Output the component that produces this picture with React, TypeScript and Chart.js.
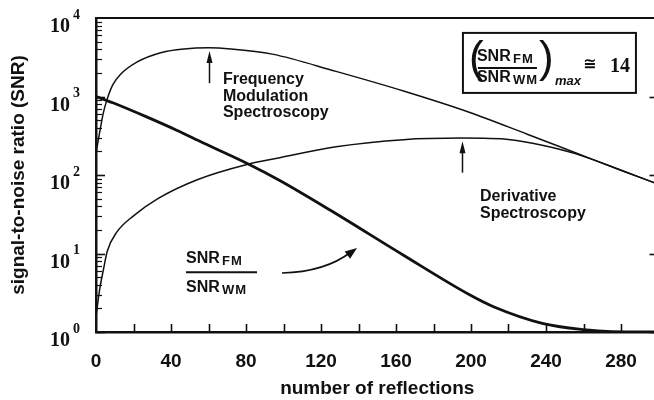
import React, { useEffect, useRef } from 'react';
import { Chart, registerables } from 'chart.js';

Chart.register(...registerables);

// ---------------- data ----------------
const fmReflections = [0, 2, 4, 6, 9, 13, 22, 35, 47, 60, 72, 94, 128, 164, 199, 230, 256, 280, 300];
const fmSNR = [191, 355, 631, 933, 1413, 1905, 2754, 3631, 4030, 4169, 4030, 3467, 2089, 1175, 631, 331, 191, 115, 76];

const wmReflections = [0, 2, 4, 6, 11, 20, 33, 54, 80, 98, 128, 164, 195, 221, 238, 256, 280, 300];
const wmSNR = [1.58, 3.55, 6.3, 10.7, 18.6, 30.2, 50, 87, 135, 166, 229, 282, 295, 282, 240, 186, 115, 76];

const ratioReflections = [0, 9, 27, 43, 57, 82, 98, 125, 164, 199, 212, 238, 260, 275, 300];
const ratioValues = [1000, 832, 550, 372, 257, 135, 85, 35.5, 9.5, 3.0, 2.1, 1.29, 1.07, 1.01, 1.0];

const xTickLabels = [0, 40, 80, 120, 160, 200, 240, 280];
const xTickMarks = [20, 40, 60, 80, 100, 120, 140, 160, 180, 200, 220, 240, 260, 280];
const yTickExponents = [0, 1, 2, 3, 4];

// ---------------- styling ----------------
const INK = '#111111';
const SANS = '"Liberation Sans", Arial, Helvetica, sans-serif';
const SERIF = '"Liberation Serif", "Times New Roman", serif';

// annotation anchors in data coordinates
const fmTextAnchor = { x: 67.7, y: Math.pow(10, 3.21) };
const wmTextAnchor = { x: 204.8, y: Math.pow(10, 1.72) };
const fmArrow = { x: 60, tail: Math.pow(10, 3.17), tip: Math.pow(10, 3.58) };
const wmArrow = { x: 195, tail: Math.pow(10, 2.03), tip: Math.pow(10, 2.43) };
const fractionAnchor = { x: 48, y: Math.pow(10, 0.76) };
const curvedArrow = {
  start: { x: 99.2, y: Math.pow(10, 0.752) },
  ctrl: { x: 122.1, y: Math.pow(10, 0.764) },
  end: { x: 139.2, y: Math.pow(10, 1.07) },
};
const boxAnchor = { x: 195.7, y: Math.pow(10, 3.81) };

function arrowHead(ctx: CanvasRenderingContext2D, tx: number, ty: number, dx: number, dy: number, len: number, half: number) {
  const n = Math.hypot(dx, dy);
  const ux = dx / n, uy = dy / n;
  const bx = tx - ux * len, by = ty - uy * len;
  ctx.beginPath();
  ctx.moveTo(tx, ty);
  ctx.lineTo(bx - uy * half, by + ux * half);
  ctx.lineTo(bx + uy * half, by - ux * half);
  ctx.closePath();
  ctx.fill();
}

const figurePlugin = {
  id: 'figureDecor',
  afterDatasetsDraw(chart: any) {
    const { ctx, chartArea, scales } = chart;
    const xs = scales.x, ys = scales.y;
    const px = (v: number) => xs.getPixelForValue(v);
    const py = (v: number) => ys.getPixelForValue(v);
    const { left, right, bottom } = chartArea;
    ctx.save();
    ctx.strokeStyle = INK;
    ctx.fillStyle = INK;
    ctx.lineCap = 'butt';

    // x ticks (inward)
    ctx.lineWidth = 1.6;
    for (const v of xTickMarks) {
      const x = Math.round(px(v)) + 0.5;
      ctx.beginPath();
      ctx.moveTo(x, bottom);
      ctx.lineTo(x, bottom - 8);
      ctx.stroke();
    }
    // y ticks (inward), minor + major
    for (let e = 0; e < 4; e++) {
      for (let m = 1; m < 10; m++) {
        const v = m * Math.pow(10, e);
        const y = Math.round(py(v)) + 0.5;
        const len = m === 1 ? 9 : 6;
        ctx.lineWidth = m === 1 ? 1.6 : 1.2;
        ctx.beginPath();
        ctx.moveTo(left, y);
        ctx.lineTo(left + len, y);
        ctx.stroke();
        if (m === 1) {
          ctx.beginPath();
          ctx.moveTo(right, y);
          ctx.lineTo(right - 9, y);
          ctx.stroke();
        }
      }
    }

    // y tick labels 10^n
    ctx.textBaseline = 'middle';
    for (const e of yTickExponents) {
      const y = py(Math.pow(10, e));
      ctx.font = `bold 20px ${SERIF}`;
      ctx.textAlign = 'right';
      ctx.fillText('10', left - 26, y + 9);
      ctx.font = `bold 14px ${SERIF}`;
      ctx.textAlign = 'left';
      ctx.fillText(String(e), left - 23, y - 3);
    }

    // text labels
    ctx.textAlign = 'left';
    ctx.font = `bold 16px ${SANS}`;
    const fx = px(fmTextAnchor.x), fy = py(fmTextAnchor.y);
    ['Frequency', 'Modulation', 'Spectroscopy'].forEach((t, i) => ctx.fillText(t, fx, fy + i * 16.5));
    const dx = px(wmTextAnchor.x), dy = py(wmTextAnchor.y);
    ['Derivative', 'Spectroscopy'].forEach((t, i) => ctx.fillText(t, dx, dy + i * 17));

    // vertical arrows
    ctx.lineWidth = 1.5;
    for (const a of [fmArrow, wmArrow]) {
      const x = Math.round(px(a.x)) + 0.5;
      const yT = py(a.tail), yP = py(a.tip);
      ctx.beginPath();
      ctx.moveTo(x, yT);
      ctx.lineTo(x, yP + 6);
      ctx.stroke();
      arrowHead(ctx, x, yP, 0, -1, 12, 3);
    }

    // fraction label SNR_FM / SNR_WM
    const qx = px(fractionAnchor.x), qy = py(fractionAnchor.y);
    ctx.font = `bold 16px ${SANS}`;
    ctx.fillText('SNR', qx, qy - 14);
    ctx.fillText('SNR', qx, qy + 15);
    (ctx as any).letterSpacing = '1px';
    ctx.font = `bold 13px ${SANS}`;
    ctx.fillText('FM', qx + 36, qy - 11);
    ctx.fillText('WM', qx + 36, qy + 18);
    (ctx as any).letterSpacing = '0px';
    ctx.lineWidth = 2;
    ctx.beginPath();
    ctx.moveTo(qx, qy);
    ctx.lineTo(qx + 71, qy);
    ctx.stroke();

    // curved arrow
    const s = { x: px(curvedArrow.start.x), y: py(curvedArrow.start.y) };
    const c = { x: px(curvedArrow.ctrl.x), y: py(curvedArrow.ctrl.y) };
    const en = { x: px(curvedArrow.end.x), y: py(curvedArrow.end.y) };
    ctx.lineWidth = 1.6;
    ctx.beginPath();
    ctx.moveTo(s.x, s.y);
    ctx.quadraticCurveTo(c.x, c.y, en.x - 6, en.y + 4);
    ctx.stroke();
    arrowHead(ctx, en.x, en.y, en.x - c.x, en.y - c.y, 12, 4.5);

    // boxed formula
    const L = px(boxAnchor.x), T = py(boxAnchor.y);
    ctx.lineWidth = 2;
    ctx.strokeRect(L, T, 173, 60);
    ctx.font = `44px ${SANS}`;
    ctx.fillText('(', L + 6, T + 27);
    ctx.fillText(')', L + 76, T + 27);
    ctx.font = `bold 16px ${SANS}`;
    ctx.fillText('SNR', L + 14, T + 24);
    ctx.fillText('SNR', L + 14, T + 45);
    (ctx as any).letterSpacing = '1px';
    ctx.font = `bold 13px ${SANS}`;
    ctx.fillText('FM', L + 50, T + 27);
    ctx.fillText('WM', L + 50, T + 48);
    (ctx as any).letterSpacing = '0px';
    ctx.beginPath();
    ctx.moveTo(L + 15, T + 35);
    ctx.lineTo(L + 74, T + 35);
    ctx.stroke();
    ctx.font = `italic bold 13px ${SANS}`;
    ctx.fillText('max', L + 92, T + 49);
    ctx.font = `bold 16px "DejaVu Sans", ${SANS}`;
    ctx.fillText('\u2245', L + 120, T + 32);
    ctx.font = `bold 20px ${SERIF}`;
    ctx.fillText('14', L + 147, T + 34);

    ctx.restore();
  },
};

export default function App() {
  const canvasRef = useRef<HTMLCanvasElement | null>(null);

  useEffect(() => {
    const canvas = canvasRef.current;
    if (!canvas) return;
    const toPoints = (xs: number[], ys: number[]) => xs.map((x, i) => ({ x, y: ys[i] }));
    const lineStyle = (w: number) => ({
      borderColor: INK,
      backgroundColor: INK,
      borderWidth: w,
      pointRadius: 0,
      fill: false,
      cubicInterpolationMode: 'monotone' as const,
      borderJoinStyle: 'round' as const,
      borderCapStyle: 'round' as const,
    });
    const tickFont = { family: SANS, size: 19, weight: 'bold' as const };
    const chart = new Chart(canvas, {
      type: 'line',
      data: {
        datasets: [
          { label: 'Frequency Modulation Spectroscopy', data: toPoints(fmReflections, fmSNR), ...lineStyle(1.5) },
          { label: 'Derivative Spectroscopy', data: toPoints(wmReflections, wmSNR), ...lineStyle(1.5) },
          { label: 'SNR_FM / SNR_WM', data: toPoints(ratioReflections, ratioValues), ...lineStyle(2.8) },
        ],
      },
      options: {
        responsive: false,
        animation: false,
        devicePixelRatio: 1,
        layout: { padding: { left: 0, right: 5.5, top: 18, bottom: 0 } },
        plugins: { legend: { display: false }, tooltip: { enabled: false } },
        scales: {
          x: {
            type: 'linear',
            position: 'bottom',
            min: 0,
            max: 300,
            grid: { display: false },
            border: { display: true, color: INK, width: 2.5 },
            ticks: { font: tickFont, color: INK, padding: 10, autoSkip: false, maxRotation: 0, minRotation: 0 },
            afterBuildTicks: (s: any) => {
              s.ticks = xTickLabels.map((v) => ({ value: v }));
            },
            title: {
              display: true,
              text: 'number of reflections',
              font: { family: SANS, size: 19, weight: 'bold' },
              color: INK,
              padding: { top: 0, bottom: 0 },
            },
            afterFit: (s: any) => {
              s.height = 68;
            },
          },
          xTop: {
            type: 'linear',
            position: 'top',
            min: 0,
            max: 300,
            grid: { display: false },
            ticks: { display: false },
            border: { display: true, color: INK, width: 2 },
            afterFit: (s: any) => {
              s.height = 0;
            },
          },
          y: {
            type: 'logarithmic',
            position: 'left',
            min: 1,
            max: 10000,
            grid: { display: false },
            border: { display: true, color: INK, width: 2.5 },
            ticks: { display: false },
            title: {
              display: true,
              text: 'signal-to-noise ratio (SNR)',
              font: { family: SANS, size: 19, weight: 'bold' },
              color: INK,
              padding: { top: 7.6, bottom: 0 },
            },
            afterFit: (s: any) => {
              s.width = 96;
            },
          },
        },
      } as any,
      plugins: [figurePlugin],
    });
    return () => chart.destroy();
  }, []);

  return (
    <div style={{ position: 'fixed', left: 0, top: 0, width: 654, height: 400, overflow: 'hidden', background: '#fff' }}>
      <canvas ref={canvasRef} width={664} height={400} style={{ width: 664, height: 400, display: 'block' }} />
    </div>
  );
}
